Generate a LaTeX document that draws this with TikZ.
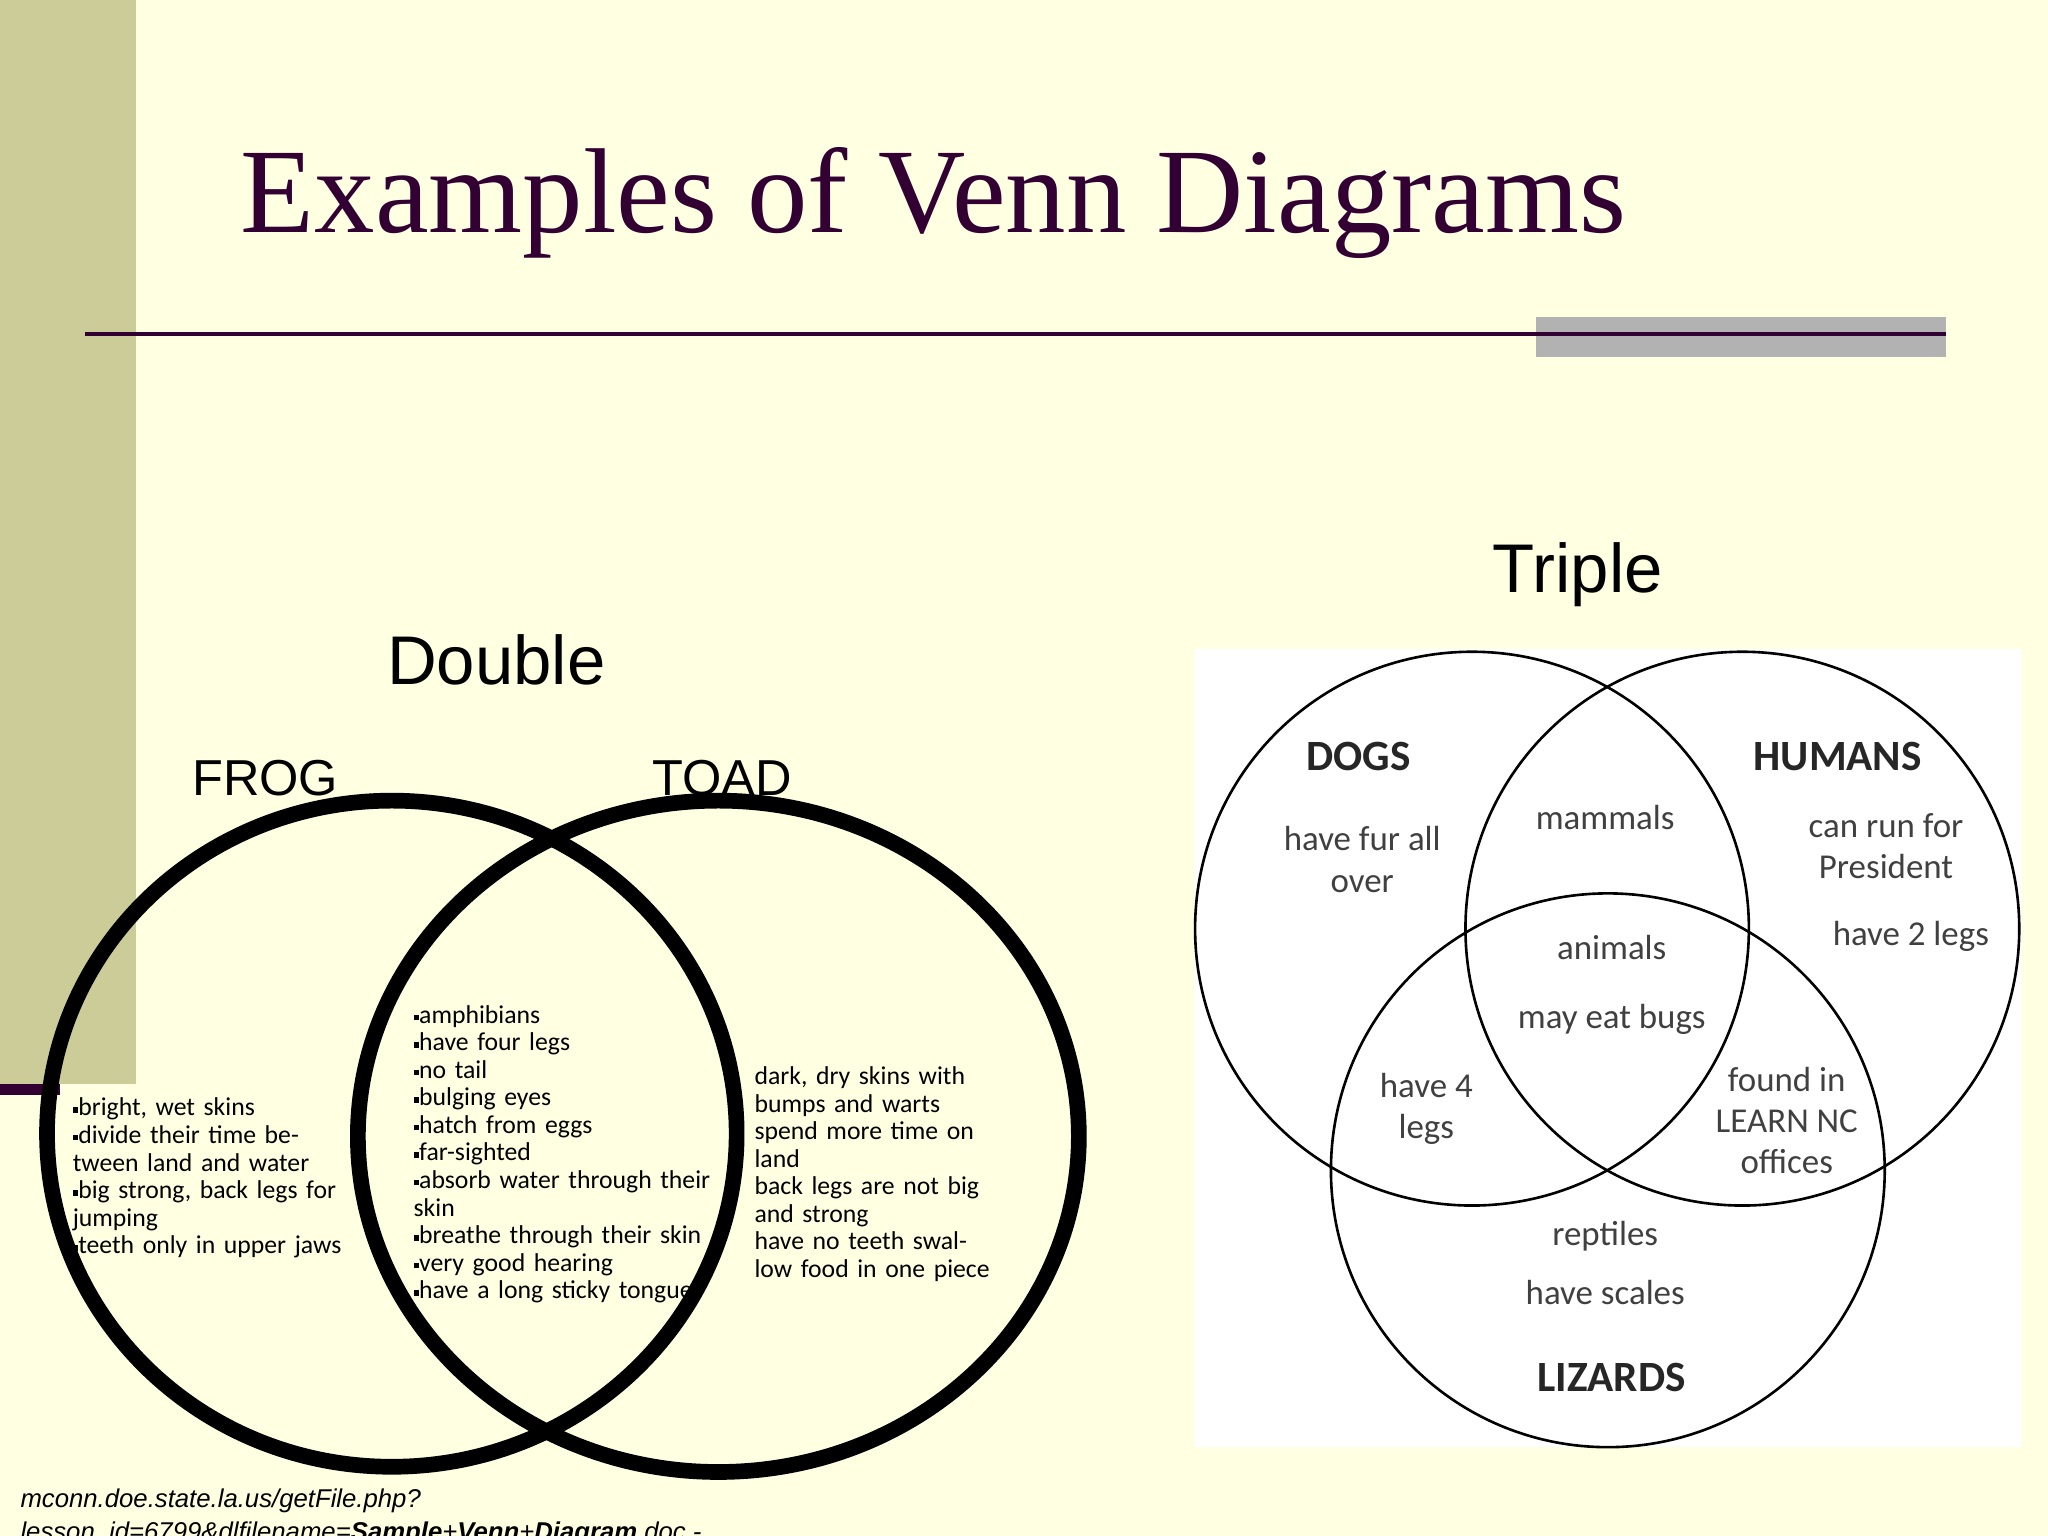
\documentclass[tikz,border=0pt]{standalone}
\usepackage{fontspec}
\setmainfont{Liberation Serif}
\newfontfamily\arialf{Liberation Sans}
\newfontfamily\calf{Carlito}
\definecolor{bgyellow}{RGB}{255,255,226}
\definecolor{olivebar}{RGB}{204,204,153}
\definecolor{titlepurple}{RGB}{51,0,51}
\newcommand{\bx}{\rule[0.25ex]{0.45ex}{0.45ex}}
\begin{document}
\begin{tikzpicture}[x=0.01cm,y=-0.01cm,
    listtext/.style={anchor=north west,align=left,inner sep=0pt,font=\calf\fontsize{5.6}{6}\selectfont},
    venntext/.style={align=center,inner sep=0pt,font=\calf\fontsize{7.6}{9}\selectfont,text=black!75},
    setname/.style={inner sep=0pt,font=\calf\bfseries\fontsize{9.4}{11}\selectfont,text=black!85}]
    \useasboundingbox (0,0) rectangle (1568,1176);
    \fill[bgyellow] (0,0) rectangle (1568,1176);
    \fill[olivebar] (0,0) rectangle (104,830);
    \draw[titlepurple,line width=.08cm] (0,834) -- (46,834);
    \node[text=titlepurple,font=\fontsize{26.3}{28}\selectfont,anchor=base west] (title) at (172,178) {Examples of Venn Diagrams};
    \fill[black!30] (1176,243) rectangle (1490,273);
    \draw[titlepurple,line width=.03cm] (65,256) -- (1490,256);
    % double
    \node[font=\arialf\fontsize{15}{17}\selectfont] (double) at (380,505) {Double};
    \node[font=\arialf\fontsize{11}{13}\selectfont] (frog) at (203,596) {FROG};
    \node[font=\arialf\fontsize{11}{13}\selectfont] (toad) at (553,596) {TOAD};
    \draw[line width=.12cm] (300,868) ellipse (264 and 255);
    \draw[line width=.12cm] (550,870) ellipse (276 and 257);
    \node[listtext,text width=2.1cm] (froglist) at (55,840) {\bx bright, wet skins\\\bx divide their time between land and water\\\bx big strong, back legs for jumping\\\bx teeth only in upper jaws};
    \node[listtext,text width=2.3cm] (bothlist) at (316,769) {\bx amphibians\\\bx have four legs\\\bx no tail\\\bx bulging eyes\\\bx hatch from eggs\\\bx far-sighted\\\bx absorb water through their skin\\\bx breathe through their skin\\\bx very good hearing\\\bx have a long sticky tongue};
    \node[listtext,text width=1.85cm] (toadlist) at (577,816) {dark, dry skins with bumps and warts\\spend more time on land\\back legs are not big and strong\\have no teeth swallow food in one piece};
    % triple
    \node[font=\arialf\fontsize{15}{17}\selectfont] (triple) at (1208,440) {Triple};
    \fill[white] (914,497) rectangle (1548,1108);
    \draw[line width=.02cm] (1127,711) circle (212);
    \draw[line width=.02cm] (1334,711) circle (212);
    \draw[line width=.02cm] (1231,896) circle (212);
    \node[setname] (dogs) at (1040,579) {DOGS};
    \node[setname] (humans) at (1407,579) {HUMANS};
    \node[setname] (lizards) at (1234,1055) {LIZARDS};
    \node[venntext] (fur) at (1043,658) {have fur all\\over};
    \node[venntext] (mammals) at (1229,626) {mammals};
    \node[venntext] (president) at (1444,648) {can run for\\President};
    \node[venntext] (twolegs) at (1463,717) {have 2 legs};
    \node[venntext] (animals) at (1234,754) {animals\\[6pt]may eat bugs};
    \node[venntext] (fourlegs) at (1092,849) {have 4\\legs};
    \node[venntext] (learn) at (1368,858) {found in\\LEARN NC\\offices};
    \node[venntext] (reptiles) at (1229,967) {reptiles\\[4pt]have scales};
    % source
    \node[anchor=north west,align=left,inner sep=0pt,font=\arialf\itshape\fontsize{5.6}{7.2}\selectfont] (source) at (15,1139) {mconn.doe.state.la.us/getFile.php?\\lesson\_id=6799\&dlfilename=\textbf{Sample}+\textbf{Venn}+\textbf{Diagram}.doc -};
\end{tikzpicture}
\end{document}
